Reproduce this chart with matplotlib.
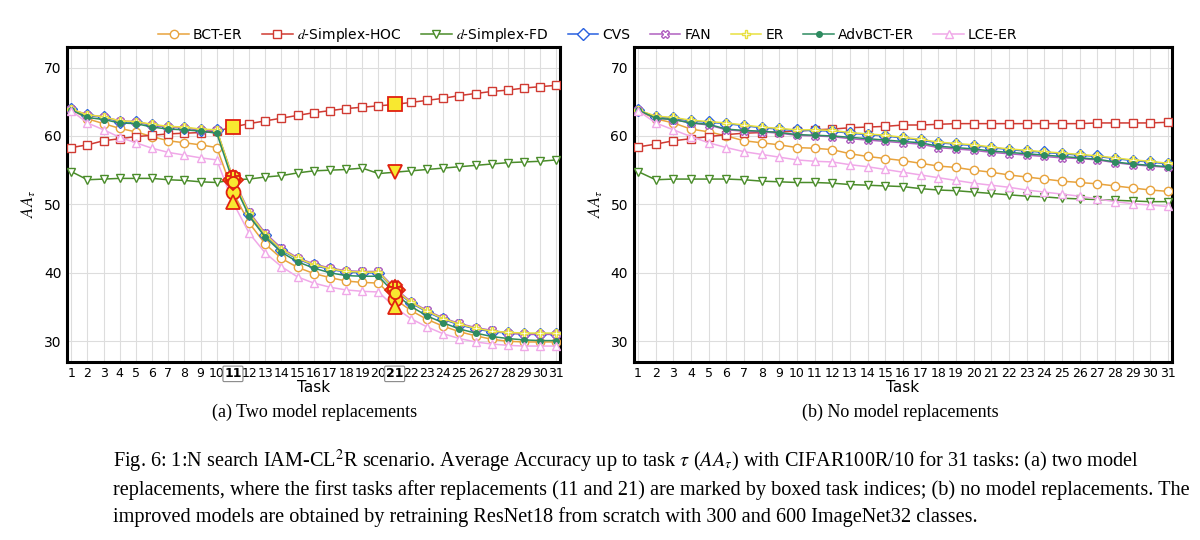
import matplotlib
matplotlib.use('Agg')
import matplotlib.pyplot as plt # 그래프 그리기
import numpy as np # 데이터를 배열로 다루기 위해 사용

plt.rcParams['mathtext.fontset'] = 'stix'

# 태스크 번호
tasks = np.arange(1, 32)

# (a) 두 번의 모델 교체 데이터
left = {
    'BCT-ER': [63.9, 62.5, 61.8, 61.1, 60.6, 59.9, 59.3, 59.0, 58.7, 58.3, 51.8, 47.3, 44.2, 42.1, 40.8, 39.9,
               39.3, 38.8, 38.6, 38.5, 36.2, 34.5, 33.2, 32.2, 31.4, 30.8, 30.3, 30.0, 29.9, 29.9, 29.9],
    'd-Simplex-HOC': [58.3, 58.7, 59.3, 59.6, 59.9, 60.1, 60.3, 60.4, 60.5, 60.7, 61.3, 61.8, 62.2, 62.6, 63.0, 63.4,
                      63.7, 64.0, 64.2, 64.4, 64.6, 64.9, 65.2, 65.5, 65.9, 66.2, 66.5, 66.7, 67.0, 67.2, 67.4],
    'd-Simplex-FD': [54.8, 53.6, 53.7, 53.8, 53.8, 53.8, 53.6, 53.5, 53.3, 53.2, 53.6, 53.7, 54.0, 54.2, 54.6, 54.9,
                     55.0, 55.1, 55.3, 54.5, 54.7, 54.9, 55.1, 55.3, 55.5, 55.7, 55.9, 56.1, 56.2, 56.3, 56.5],
    'CVS': [63.9, 63.0, 62.7, 62.1, 62.0, 61.6, 61.3, 61.2, 60.9, 60.8, 53.6, 48.6, 45.5, 43.3, 42.0, 41.1,
            40.5, 40.1, 40.0, 40.0, 37.5, 35.6, 34.3, 33.2, 32.4, 31.8, 31.4, 31.2, 31.1, 31.1, 31.1],
    'FAN': [63.9, 63.1, 62.8, 62.2, 62.1, 61.6, 61.3, 61.2, 60.9, 60.8, 53.9, 48.9, 45.8, 43.6, 42.2, 41.3,
            40.7, 40.3, 40.2, 40.2, 37.8, 35.8, 34.5, 33.4, 32.6, 32.0, 31.6, 31.2, 31.0, 31.0, 31.0],
    'ER': [63.9, 63.1, 62.8, 62.2, 62.1, 61.7, 61.4, 61.3, 61.0, 60.9, 53.8, 48.7, 45.6, 43.4, 42.1, 41.2,
           40.6, 40.2, 40.1, 40.1, 37.6, 35.7, 34.4, 33.3, 32.5, 31.9, 31.5, 31.3, 31.2, 31.2, 31.2],
    'AdvBCT-ER': [63.8, 62.7, 62.4, 61.9, 61.8, 61.3, 61.0, 60.9, 60.7, 60.4, 53.3, 48.3, 45.2, 43.0, 41.6, 40.7,
                  40.0, 39.6, 39.5, 39.5, 37.0, 35.1, 33.7, 32.7, 31.8, 31.2, 30.7, 30.4, 30.2, 30.1, 30.1],
    'LCE-ER': [63.7, 61.9, 60.9, 59.8, 59.0, 58.2, 57.6, 57.2, 56.8, 56.5, 50.3, 45.8, 42.9, 40.9, 39.4, 38.5,
               37.9, 37.5, 37.3, 37.2, 35.0, 33.3, 32.1, 31.1, 30.4, 29.9, 29.6, 29.4, 29.3, 29.3, 29.3],
}

# (b) 모델 교체 없음 데이터
right = {
    'BCT-ER': [63.7, 62.5, 61.9, 61.0, 60.6, 60.0, 59.3, 59.0, 58.7, 58.3, 58.2, 58.0, 57.4, 57.0, 56.7, 56.4,
               56.0, 55.6, 55.4, 55.0, 54.7, 54.3, 54.0, 53.7, 53.4, 53.2, 53.0, 52.7, 52.4, 52.1, 51.9],
    'd-Simplex-HOC': [58.4, 58.8, 59.3, 59.6, 59.9, 60.2, 60.4, 60.5, 60.6, 60.7, 60.9, 61.0, 61.2, 61.3, 61.4, 61.6,
                      61.6, 61.7, 61.8, 61.8, 61.8, 61.8, 61.8, 61.8, 61.8, 61.8, 61.9, 61.9, 61.9, 61.9, 62.0],
    'd-Simplex-FD': [54.8, 53.6, 53.7, 53.7, 53.7, 53.7, 53.6, 53.4, 53.3, 53.2, 53.2, 53.1, 52.9, 52.8, 52.7, 52.6,
                     52.3, 52.1, 52.0, 51.8, 51.6, 51.4, 51.2, 51.1, 50.9, 50.8, 50.7, 50.6, 50.5, 50.4, 50.4],
    'CVS': [63.8, 62.8, 62.6, 62.2, 62.0, 61.8, 61.5, 61.2, 61.0, 60.8, 60.8, 60.7, 60.4, 60.2, 60.0, 59.7,
            59.4, 59.0, 58.8, 58.6, 58.3, 58.0, 57.8, 57.6, 57.4, 57.2, 57.0, 56.7, 56.4, 56.2, 55.9],
    'FAN': [63.8, 62.6, 62.4, 61.9, 61.6, 60.9, 60.7, 60.6, 60.4, 60.1, 60.0, 59.9, 59.6, 59.4, 59.2, 59.0,
            58.8, 58.3, 58.1, 57.9, 57.6, 57.4, 57.2, 57.0, 56.8, 56.7, 56.5, 56.1, 55.8, 55.6, 55.4],
    'ER': [63.8, 62.9, 62.7, 62.3, 62.1, 61.9, 61.6, 61.3, 61.1, 60.9, 60.9, 60.8, 60.5, 60.3, 60.1, 59.8,
           59.5, 59.1, 58.9, 58.7, 58.4, 58.1, 57.9, 57.7, 57.5, 57.3, 57.1, 56.8, 56.5, 56.3, 56.0],
    'AdvBCT-ER': [63.8, 62.6, 62.4, 61.9, 61.7, 61.0, 60.8, 60.7, 60.5, 60.2, 60.1, 60.0, 59.8, 59.6, 59.4, 59.2,
                  59.0, 58.5, 58.3, 58.1, 57.8, 57.6, 57.4, 57.2, 57.0, 56.8, 56.6, 56.2, 55.9, 55.7, 55.5],
    'LCE-ER': [63.7, 61.9, 60.9, 59.9, 59.0, 58.3, 57.7, 57.3, 56.9, 56.5, 56.3, 56.2, 55.8, 55.5, 55.1, 54.7,
               54.3, 53.9, 53.5, 53.1, 52.8, 52.5, 52.1, 51.8, 51.5, 51.2, 50.8, 50.4, 50.1, 49.9, 49.7],
}

# 방법별 스타일 (색, 마커, 범례 이름)
styles = {
    'BCT-ER': ('#e8a33d', 'o', 'BCT-ER'),
    'd-Simplex-HOC': ('#d03a32', 's', '$d$-Simplex-HOC'),
    'd-Simplex-FD': ('#4a8c2a', 'v', '$d$-Simplex-FD'),
    'CVS': ('#2860e0', 'D', 'CVS'),
    'FAN': ('#b060c0', 'X', 'FAN'),
    'ER': ('#e8e040', 'P', 'ER'),
    'AdvBCT-ER': ('#2e8b60', '.', 'AdvBCT-ER'),
    'LCE-ER': ('#f0a8e8', '^', 'LCE-ER'),
}

fig = plt.figure(figsize=(12, 5.4))

ax1 = plt.axes([0.056, 0.330, 0.411, 0.583])
for name, vals in left.items():
    color, marker, label = styles[name]
    ms = 8 if marker == '.' else 6
    plt.plot(tasks, vals, color=color, marker=marker, markersize=ms, markerfacecolor='white' if marker != '.' else color,
             markeredgecolor=color, linewidth=1.1, label=label, zorder=3)
    # 모델 교체 직후 태스크 강조
    for t in (11, 21):
        plt.plot(t, vals[t - 1], marker=marker if marker != '.' else 'o', markersize=10 if marker != '.' else 8,
                 markerfacecolor='#f8e830', markeredgecolor='#e02010', markeredgewidth=1.3, zorder=5)

ax2 = plt.axes([0.528, 0.330, 0.449, 0.583])
for name, vals in right.items():
    color, marker, label = styles[name]
    ms = 8 if marker == '.' else 6
    plt.plot(tasks, vals, color=color, marker=marker, markersize=ms, markerfacecolor='white' if marker != '.' else color,
             markeredgecolor=color, linewidth=1.1, zorder=3)

for ax in (ax1, ax2):
    ax.set_xlim(0.75, 31.25)
    ax.set_ylim(27, 73)
    ax.set_xticks(tasks)
    ax.set_xticklabels([str(t) for t in tasks], fontsize=9)
    ax.set_yticks([30, 40, 50, 60, 70])
    ax.tick_params(axis='y', labelsize=10)
    ax.tick_params(length=0, pad=4)
    ax.grid(True, color='#dddddd', linewidth=0.8)
    ax.set_axisbelow(True)
    for sp in ax.spines.values():
        sp.set_linewidth(2.2)
    ax.set_xlabel('Task', fontsize=11, labelpad=0)
    ax.set_ylabel(r'$AA_{\tau}$', fontsize=12, labelpad=4)

# 교체 태스크 번호에 상자 표시
for lab in ax1.get_xticklabels():
    if lab.get_text() in ('11', '21'):
        lab.set_fontweight('bold')
        lab.set_bbox(dict(boxstyle='round,pad=0.1', facecolor='white', edgecolor='#888888', linewidth=0.8))

fig.legend(loc='upper center', bbox_to_anchor=(0.49, 0.975), ncol=8, frameon=False, fontsize=10,
           handlelength=2.2, columnspacing=1.4, handletextpad=0.3)

# 부제목과 그림 설명
fig.text(0.262, 0.228, '(a) Two model replacements', ha='center', family='Liberation Serif', fontsize=13)
fig.text(0.750, 0.228, '(b) No model replacements', ha='center', family='Liberation Serif', fontsize=13)
caption = [
    r'Fig. 6: 1:N search IAM-CL$^2$R scenario. Average Accuracy up to task $\tau$ ($AA_\tau$) with CIFAR100R/10 for 31 tasks: (a) two model',
    'replacements, where the first tasks after replacements (11 and 21) are marked by boxed task indices; (b) no model replacements. The',
    'improved models are obtained by retraining ResNet18 from scratch with 300 and 600 ImageNet32 classes.',
]
for i, line in enumerate(caption):
    fig.text(0.094, 0.135 - i * 0.051, line, ha='left', family='Liberation Serif', fontsize=14.6)

plt.savefig('out.png', dpi=100)
